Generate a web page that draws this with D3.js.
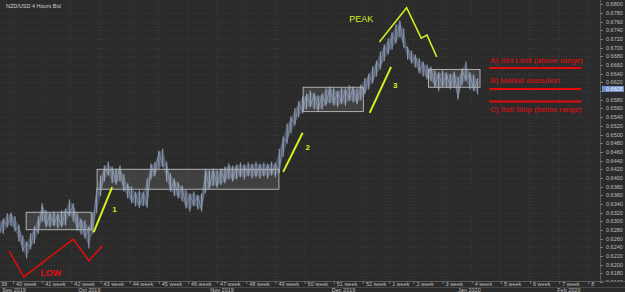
<!DOCTYPE html>
<html>
<head>
<meta charset="utf-8">
<script src="https://cdn.jsdelivr.net/npm/d3@7"></script>
<style>
    html, body { margin: 0; padding: 0; background: #2b2b2b; }
    svg { display: block; font-family: Arial, "Liberation Sans", sans-serif; }
</style>
</head>
<body>
<div id="chart"></div>
<script>
// week axis: label and number of 4h bars in that week (holiday weeks are short)
const weekLabels = ["39", "40 week", "41 week", "42 week", "43 week", "44 week", "45 week", "46 week",
    "47 week", "48 week", "49 week", "50 week", "51 week", "52 week", "1 week", "2 week", "3 week",
    "4 week", "5 week", "6 week", "7 week", "8"];
const weekBars = [30, 30, 30, 30, 30, 30, 30, 30, 30, 30, 30, 30, 30, 27, 25, 30, 30, 30, 30, 30, 30, 30];

const monthLabels = ["Sep 2019", "Oct 2019", "Nov 2019", "Dec 2019", "Jan 2020", "Feb 2020"];
const monthBar = [19, 97, 233, 358, 488, 590];

// NZD/USD 4h, sampled every 4 bars starting at bar 16: high / low
const startBar = 16, stepBars = 4;
const hi = [0.6299, 0.6303, 0.6315, 0.6317, 0.6308, 0.6289, 0.6264, 0.6250, 0.6269, 0.6285,
    0.6308, 0.6338, 0.6322, 0.6317, 0.6319, 0.6315, 0.6322, 0.6326, 0.6347, 0.6338,
    0.6315, 0.6303, 0.6299, 0.6285, 0.6317, 0.6372, 0.6402, 0.6425, 0.6434, 0.6423,
    0.6418, 0.6425, 0.6405, 0.6384, 0.6377, 0.6365, 0.6368, 0.6365, 0.6395, 0.6430,
    0.6434, 0.6460, 0.6464, 0.6434, 0.6407, 0.6395, 0.6388, 0.6379, 0.6368, 0.6361,
    0.6365, 0.6358, 0.6361, 0.6418, 0.6414, 0.6418, 0.6414, 0.6418, 0.6423, 0.6430,
    0.6425, 0.6428, 0.6432, 0.6428, 0.6432, 0.6430, 0.6434, 0.6430, 0.6432, 0.6430,
    0.6434, 0.6432, 0.6464, 0.6492, 0.6522, 0.6538, 0.6557, 0.6573, 0.6584, 0.6591,
    0.6598, 0.6593, 0.6587, 0.6591, 0.6603, 0.6607, 0.6603, 0.6598, 0.6605, 0.6603,
    0.6610, 0.6607, 0.6603, 0.6612, 0.6626, 0.6637, 0.6653, 0.6667, 0.6688, 0.6704,
    0.6718, 0.6732, 0.6750, 0.6759, 0.6741, 0.6699, 0.6690, 0.6681, 0.6672, 0.6665,
    0.6658, 0.6653, 0.6644, 0.6640, 0.6644, 0.6640, 0.6637, 0.6642, 0.6630, 0.6649,
    0.6665, 0.6640, 0.6635, 0.6626];
const lo = [0.6273, 0.6275, 0.6289, 0.6292, 0.6280, 0.6257, 0.6234, 0.6218, 0.6239, 0.6252,
    0.6275, 0.6303, 0.6289, 0.6289, 0.6292, 0.6287, 0.6289, 0.6294, 0.6315, 0.6303,
    0.6282, 0.6273, 0.6264, 0.6241, 0.6275, 0.6322, 0.6361, 0.6395, 0.6409, 0.6391,
    0.6388, 0.6395, 0.6372, 0.6356, 0.6345, 0.6338, 0.6335, 0.6338, 0.6335, 0.6400,
    0.6407, 0.6423, 0.6428, 0.6395, 0.6372, 0.6361, 0.6356, 0.6349, 0.6333, 0.6326,
    0.6338, 0.6331, 0.6326, 0.6368, 0.6377, 0.6384, 0.6381, 0.6388, 0.6391, 0.6400,
    0.6395, 0.6400, 0.6405, 0.6400, 0.6407, 0.6402, 0.6405, 0.6402, 0.6407, 0.6402,
    0.6409, 0.6405, 0.6414, 0.6453, 0.6483, 0.6506, 0.6524, 0.6543, 0.6552, 0.6561,
    0.6566, 0.6561, 0.6557, 0.6561, 0.6570, 0.6575, 0.6570, 0.6566, 0.6573, 0.6570,
    0.6580, 0.6577, 0.6573, 0.6582, 0.6596, 0.6607, 0.6621, 0.6637, 0.6653, 0.6672,
    0.6688, 0.6699, 0.6713, 0.6727, 0.6704, 0.6676, 0.6667, 0.6658, 0.6644, 0.6637,
    0.6630, 0.6626, 0.6612, 0.6603, 0.6612, 0.6610, 0.6607, 0.6612, 0.6584, 0.6617,
    0.6626, 0.6607, 0.6603, 0.6596];
const lastPrice = 0.6605;

// annotations, in bar / price units
const boxes = [[43, 110, 0.6322, 0.6282], [116, 303, 0.6421, 0.6375],
    [328, 390, 0.6610, 0.6554], [457, 510, 0.6651, 0.6610]];
const trendLines = [[113, 0.6275, 132, 0.6379], [308, 0.6414, 328, 0.6504], [397, 0.6550, 419, 0.6656]];
const trendNames = ["1", "2", "3"];
const trendNamePos = [[132, 0.6322], [331, 0.6464], [421, 0.6607]];
const peakPath = [[407, 0.6713], [435, 0.6792], [450, 0.6722], [456, 0.6729], [466, 0.6679]];
const lowPath = [[26, 0.6232], [41, 0.6172], [92, 0.6259], [108, 0.6209], [122, 0.6244]];
const orderNames = ["A) Sell Limit (above range)", "B) Market execution", "C) Sell Stop (below range)"];
const orderPrice = [0.6653, 0.6605, 0.6576];
const orderTextPrice = [0.6664, 0.6618, 0.6551];

function drawChart() {
    const div_id = "#chart";
    const win_width = 625, win_height = 292;
    const plotRight = 600, plotBottom = 281;

    const svg = d3.select(div_id)
        .append("svg")
        .attr("width", win_width)
        .attr("height", win_height);

    svg.append("rect")
        .attr("width", win_width).attr("height", win_height)
        .attr("fill", "#2b2b2b");

    const x = d3.scaleLinear().domain([0, 634]).range([-16.1, plotRight]);
    const y = d3.scaleLinear().domain([0.616, 0.68]).range([282.1, 4.3]);

    const weekStart = weekBars.map((d, i) => d3.sum(weekBars.slice(0, i)));
    const priceTicks = d3.range(0.616, 0.6801, 0.002);

    svg.append("clipPath").attr("id", "plot")
        .append("rect").attr("width", plotRight).attr("height", plotBottom);
    svg.append("clipPath").attr("id", "axisclip")
        .append("rect").attr("x", plotRight).attr("width", 25).attr("height", plotBottom);
    svg.append("clipPath").attr("id", "plot2")
        .append("rect").attr("width", plotRight - 2).attr("height", win_height);

    const g = svg.append("g").attr("clip-path", "url(#plot)");

    // grid
    g.append("g").selectAll("line")
        .data(weekStart)
        .enter().append("line")
        .attr("x1", d => x(d)).attr("x2", d => x(d))
        .attr("y1", 0).attr("y2", plotBottom)
        .attr("stroke", "#3a3a3a")
        .attr("stroke-dasharray", "1,2");
    g.append("g").selectAll("line")
        .data(priceTicks)
        .enter().append("line")
        .attr("x1", 0).attr("x2", plotRight)
        .attr("y1", d => Math.round(y(d)) + 0.5).attr("y2", d => Math.round(y(d)) + 0.5)
        .attr("stroke", "#3a3a3a")
        .attr("stroke-dasharray", "1,2");

    // price bars
    const pts = hi.map((h, i) => ({b: startBar + i * stepBars, h: h, l: lo[i]}));
    const area = d3.area()
        .x(d => x(d.b))
        .y0(d => y(d.l))
        .y1(d => y(d.h));
    g.append("path")
        .datum(pts)
        .attr("d", area)
        .attr("fill", "#6b788e")
        .attr("fill-opacity", 0.55);
    g.append("g").selectAll("line")
        .data(pts)
        .enter().append("line")
        .attr("x1", d => x(d.b)).attr("x2", d => x(d.b))
        .attr("y1", d => y(d.h) - 1.5).attr("y2", d => y(d.l) + 1.5)
        .attr("stroke", "#8896ae")
        .attr("stroke-width", 1.2);
    const mid = d3.line()
        .x(d => x(d.b))
        .y((d, i) => i % 2 ? y(d.h) : y(d.l));
    g.append("path")
        .datum(pts)
        .attr("d", mid)
        .attr("fill", "none")
        .attr("stroke", "#8391a9")
        .attr("stroke-width", 0.8);

    // range boxes
    g.append("g").selectAll("rect")
        .data(boxes)
        .enter().append("rect")
        .attr("x", d => x(d[0]) + 0.5)
        .attr("y", d => y(d[2]) + 0.5)
        .attr("width", d => x(d[1]) - x(d[0]))
        .attr("height", d => y(d[3]) - y(d[2]))
        .attr("fill", "#ffffff")
        .attr("fill-opacity", 0.1)
        .attr("stroke", "#b0b0b0")
        .attr("stroke-width", 1);

    const yellow = "#d6f01e", red = "#e30b0b";

    // impulse legs
    g.append("g").selectAll("line")
        .data(trendLines)
        .enter().append("line")
        .attr("x1", d => x(d[0])).attr("y1", d => y(d[1]))
        .attr("x2", d => x(d[2])).attr("y2", d => y(d[3]))
        .attr("stroke", yellow)
        .attr("stroke-width", 2);
    g.append("g").selectAll("text")
        .data(trendNames)
        .enter().append("text")
        .attr("x", (d, i) => x(trendNamePos[i][0]))
        .attr("y", (d, i) => y(trendNamePos[i][1]))
        .attr("fill", yellow)
        .attr("font-size", "8px")
        .attr("font-weight", "bold")
        .text(d => d);

    const zig = d3.line().x(d => x(d[0])).y(d => y(d[1]));
    g.append("path")
        .attr("d", zig(peakPath))
        .attr("fill", "none").attr("stroke", yellow).attr("stroke-width", 1.5);
    g.append("text")
        .attr("x", x(376)).attr("y", y(0.6759))
        .attr("fill", yellow).attr("font-size", "9px")
        .text("PEAK");

    g.append("path")
        .attr("d", zig(lowPath))
        .attr("fill", "none").attr("stroke", red).attr("stroke-width", 1.5);
    g.append("text")
        .attr("x", x(58)).attr("y", y(0.6174))
        .attr("fill", red).attr("font-size", "9px").attr("font-weight", "bold")
        .text("LOW");

    // order levels
    g.append("g").selectAll("line")
        .data(orderPrice)
        .enter().append("line")
        .attr("x1", x(520)).attr("x2", x(615))
        .attr("y1", d => y(d)).attr("y2", d => y(d))
        .attr("stroke", red)
        .attr("stroke-width", 2);
    g.append("g").selectAll("text")
        .data(orderNames)
        .enter().append("text")
        .attr("x", x(521))
        .attr("y", (d, i) => y(orderTextPrice[i]))
        .attr("fill", red)
        .attr("font-size", "7.8px")
        .text(d => d);

    g.append("text")
        .attr("x", 6).attr("y", 8)
        .attr("fill", "#cfcfcf")
        .attr("font-size", "5.5px")
        .text("NZD/USD   4 Hours Bid");

    // price axis
    const ax = svg.append("g");
    ax.append("line")
        .attr("x1", plotRight + 0.5).attr("x2", plotRight + 0.5)
        .attr("y1", 0).attr("y2", plotBottom)
        .attr("stroke", "#5a5a5a");
    const axText = ax.append("g").attr("clip-path", "url(#axisclip)");
    axText.selectAll("text")
        .data(priceTicks.filter(d => Math.abs(y(d) - y(lastPrice)) > 5))
        .enter().append("text")
        .attr("x", 606).attr("y", d => y(d) + 2)
        .attr("fill", "#bdbdbd")
        .attr("font-size", "5.5px")
        .text(d => d.toFixed(4));
    ax.selectAll(".tk")
        .data(priceTicks)
        .enter().append("line")
        .attr("x1", plotRight).attr("x2", plotRight + 3)
        .attr("y1", d => Math.round(y(d)) + 0.5).attr("y2", d => Math.round(y(d)) + 0.5)
        .attr("stroke", "#777");
    ax.append("rect")
        .attr("x", plotRight + 2).attr("y", y(lastPrice) - 3)
        .attr("width", 22).attr("height", 6)
        .attr("fill", "#6e8fcb");
    ax.append("text")
        .attr("x", 606).attr("y", y(lastPrice) + 2)
        .attr("fill", "#ffffff")
        .attr("font-size", "5.5px")
        .text(lastPrice.toFixed(4));

    // time axis
    const tx = svg.append("g");
    tx.append("line")
        .attr("x1", 0).attr("x2", win_width)
        .attr("y1", plotBottom + 0.5).attr("y2", plotBottom + 0.5)
        .attr("stroke", "#5a5a5a");
    tx.append("line")
        .attr("x1", 0).attr("x2", win_width)
        .attr("y1", 287.5).attr("y2", 287.5)
        .attr("stroke", "#474747");
    const weekG = tx.append("g").attr("clip-path", "url(#plot2)");
    weekG.selectAll("line")
        .data(weekStart)
        .enter().append("line")
        .attr("x1", d => x(d) + 0.5).attr("x2", d => x(d) + 0.5)
        .attr("y1", plotBottom).attr("y2", plotBottom + 3)
        .attr("stroke", "#777");
    weekG.selectAll("text")
        .data(weekLabels)
        .enter().append("text")
        .attr("x", (d, i) => Math.max(1, x(weekStart[i]) + 3))
        .attr("y", 286)
        .attr("fill", "#bdbdbd")
        .attr("font-size", "5.5px")
        .text(d => d);
    tx.selectAll(".m")
        .data(monthLabels)
        .enter().append("text")
        .attr("x", (d, i) => x(monthBar[i]))
        .attr("y", 292)
        .attr("fill", "#bdbdbd")
        .attr("font-size", "5.5px")
        .text(d => d);
}
drawChart();
</script>
</body>
</html>
